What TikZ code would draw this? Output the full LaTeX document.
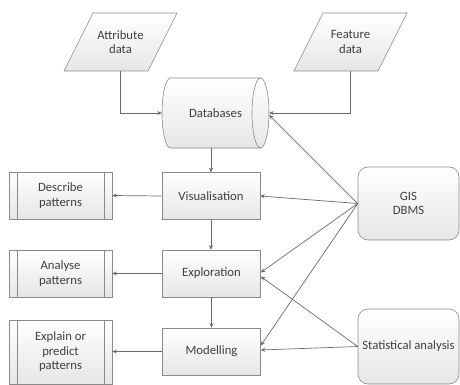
\documentclass[tikz,border=0pt]{standalone}
\usepackage{fontspec}
\setmainfont{Carlito}
\usetikzlibrary{arrows.meta,shapes.geometric}
\definecolor{txt}{HTML}{404040}
\definecolor{bord}{HTML}{8A8A8A}
\definecolor{conn}{HTML}{6A6A6A}
\definecolor{shadebot}{HTML}{E6E6E6}
\begin{document}
\begin{tikzpicture}[x=1pt,y=-1pt,
  every node/.style={font=\fontsize{12.7}{14.5}\selectfont, text=txt, align=center},
  boxbase/.style={draw=bord, line width=0.6pt, top color=white, bottom color=shadebot},
  procbox/.style={boxbase, rectangle, minimum width=98pt, minimum height=47pt, inner sep=0pt},
  patbox/.style={boxbase, rectangle, minimum width=103pt, minimum height=47pt, inner sep=0pt,
    path picture={\draw[bord, line width=0.6pt]
      ([xshift=8pt]path picture bounding box.north west) -- ([xshift=8pt]path picture bounding box.south west)
      ([xshift=-8pt]path picture bounding box.north east) -- ([xshift=-8pt]path picture bounding box.south east);}},
  roundbox/.style={boxbase, rectangle, rounded corners=10pt, minimum width=101pt, inner sep=0pt},
  datatext/.style={minimum width=84pt, minimum height=58pt, inner sep=0pt},
  conn/.style={draw=conn, line width=0.7pt, -{Stealth[length=4.5pt,width=4pt]}},
]
\useasboundingbox (0,0) rectangle (460,385);
% data parallelograms
\draw[boxbase] (93,13) -- (177,13) -- (148,71) -- (64,71) -- cycle;
\node[datatext] (attr) at (120.5,42) {Attribute\\data};
\draw[boxbase] (323,13) -- (407,13) -- (378,71) -- (294,71) -- cycle;
\node[datatext] (feat) at (350.5,42) {Feature\\data};
% database cylinder
\draw[boxbase] (260.5,78) -- (170.5,78) arc[start angle=90, end angle=270, x radius=8.5pt, y radius=35pt]
  -- (260.5,148) arc[start angle=270, end angle=450, x radius=8.5pt, y radius=35pt] -- cycle;
\draw[bord, line width=0.6pt] (260.5,78) arc[start angle=90, end angle=270, x radius=8.5pt, y radius=35pt];
\node[minimum width=107pt, minimum height=70pt, inner sep=0pt] (db) at (215.5,113) {Databases};
% process boxes
\node[procbox] (vis) at (211,196) {Visualisation};
\node[procbox] (exp) at (211.5,273.5) {Exploration};
\node[procbox] (mod) at (211.5,351.5) {Modelling};
% pattern boxes
\node[patbox] (desc) at (60.5,195.5) {Describe\\patterns};
\node[patbox] (anal) at (60.5,273.5) {Analyse\\patterns};
\node[patbox, minimum height=64pt] (expl) at (60.5,352) {Explain or\\predict\\patterns};
% tools
\node[roundbox, minimum height=73pt] (gis) at (408.5,203.5) {GIS\\DBMS};
\node[roundbox, minimum height=75pt] (stat) at (408.5,346.5) {Statistical analysis};
% connectors
\draw[conn] (attr.south) |- (db.west);
\draw[conn] (feat.south) |- (db.east);
\draw[conn] (vis.north |- db.south) -- (vis.north);
\draw[conn] (vis.south) -- (vis.south |- exp.north);
\draw[conn] (exp.south) -- (exp.south |- mod.north);
\draw[conn] (vis.west) -- (desc.east);
\draw[conn] (exp.west) -- (anal.east);
\draw[conn] (mod.west) -- (mod.west -| expl.east);
\draw[conn] (gis.west) -- ([yshift=-2pt]db.east);
\draw[conn] (gis.west) -- (vis.east);
\draw[conn] (gis.west) -- ([yshift=1pt]exp.east);
\draw[conn] (gis.west) -- ([yshift=6pt]mod.east);
\draw[conn] (stat.west) -- ([yshift=-3pt]exp.east);
\draw[conn] (stat.west) -- ([yshift=1.5pt]mod.east);
\end{tikzpicture}
\end{document}
